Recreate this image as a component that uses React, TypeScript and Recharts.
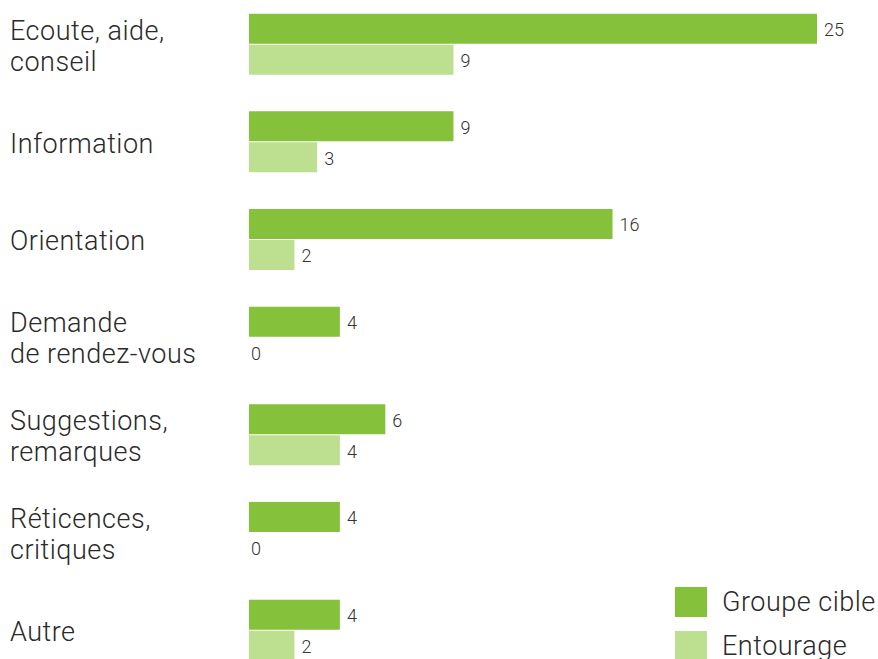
import React from "react";
import { BarChart, Bar, XAxis, YAxis, LabelList } from "recharts";

const categories = [
  "Ecoute, aide,\nconseil",
  "Information",
  "Orientation",
  "Demande\nde rendez-vous",
  "Suggestions,\nremarques",
  "Réticences,\ncritiques",
  "Autre",
];
const groupeCible = [25, 9, 16, 4, 6, 4, 4];
const entourage = [9, 3, 2, 0, 4, 0, 2];
const seriesNames = ["Groupe cible", "Entourage"];
const colors = ["#85c13a", "#bddf90"];

const data = categories.map((c, i) => ({
  name: c,
  groupe: groupeCible[i],
  entourage: entourage[i],
}));

const FONT = "Roboto, 'Noto Sans', sans-serif";

const CategoryTick = (props: any) => {
  const { y, payload } = props;
  const lines = String(payload.value).split("\n");
  const n = lines.length;
  const base = y + 10.5 - (n - 1) * 15.5;
  return (
    <text
      x={10}
      y={base}
      textAnchor="start"
      fontFamily={FONT}
      fontWeight={300}
      fontSize={27}
      letterSpacing={0.5}
      fill="#2a2a2a"
    >
      {lines.map((l, i) => (
        <tspan key={i} x={10} y={base + i * 31}>
          {l}
        </tspan>
      ))}
    </text>
  );
};

const ValueLabel = (props: any) => {
  const { x, y, width, height, value } = props;
  const v = Number(value);
  const w = Number(width) || 0;
  const off = v === 0 ? 2 : 7;
  return (
    <text
      x={Number(x) + (v === 0 ? 0 : w) + off}
      y={Number(y) + Number(height) / 2 + 1}
      dominantBaseline="central"
      fontFamily={FONT}
      fontWeight={300}
      fontSize={18}
      fill="#333"
    >
      {v}
    </text>
  );
};

export default function App() {
  return (
    <div
      style={{
        position: "fixed",
        left: 0,
        top: 0,
        width: 878,
        height: 659,
        overflow: "hidden",
        background: "#fff",
      }}
    >
      <div style={{ position: "absolute", left: 0, top: -10 }}>
        <BarChart
          width={878}
          height={700}
          data={data}
          layout="vertical"
          margin={{ top: 5.67, right: 61, bottom: 10.7, left: 0 }}
          barSize={30}
          barGap={1}
        >
          <XAxis type="number" domain={[0, 25]} hide />
          <YAxis
            type="category"
            dataKey="name"
            width={249}
            axisLine={false}
            tickLine={false}
            tick={<CategoryTick />}
            interval={0}
          />
          <Bar
            dataKey="groupe"
            name={seriesNames[0]}
            fill={colors[0]}
            minPointSize={0.01}
            isAnimationActive={false}
          >
            <LabelList dataKey="groupe" content={<ValueLabel />} />
          </Bar>
          <Bar
            dataKey="entourage"
            name={seriesNames[1]}
            fill={colors[1]}
            minPointSize={0.01}
            isAnimationActive={false}
          >
            <LabelList dataKey="entourage" content={<ValueLabel />} />
          </Bar>
        </BarChart>
      </div>
      {seriesNames.map((s, i) => (
        <div
          key={s}
          style={{
            position: "absolute",
            left: 675,
            top: 587 + i * 44,
            height: 30,
            display: "flex",
            alignItems: "center",
          }}
        >
          <div style={{ width: 32, height: 30, background: colors[i] }} />
          <span
            style={{
              marginLeft: 15,
              fontFamily: FONT,
              fontWeight: 300,
              fontSize: 27,
              color: "#2a2a2a",
              lineHeight: "30px",
              letterSpacing: 0.5,
            }}
          >
            {s}
          </span>
        </div>
      ))}
    </div>
  );
}
